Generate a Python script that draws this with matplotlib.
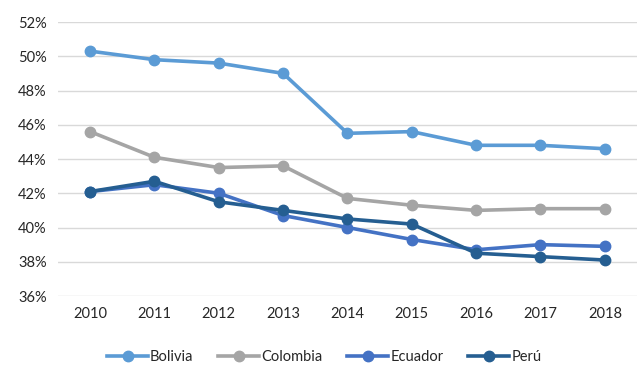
import matplotlib
matplotlib.use("Agg")
import matplotlib.pyplot as plt
from matplotlib.ticker import FuncFormatter

plt.rcParams['font.family'] = ['Lato', 'DejaVu Sans']

years = [2010, 2011, 2012, 2013, 2014, 2015, 2016, 2017, 2018]
bolivia = [50.3, 49.8, 49.6, 49.0, 45.5, 45.6, 44.8, 44.8, 44.6]
colombia = [45.6, 44.1, 43.5, 43.6, 41.7, 41.3, 41.0, 41.1, 41.1]
ecuador = [42.1, 42.5, 42.0, 40.7, 40.0, 39.3, 38.7, 39.0, 38.9]
peru = [42.1, 42.7, 41.5, 41.0, 40.5, 40.2, 38.5, 38.3, 38.1]

series = [
    ("Bolivia", bolivia, "#5B9BD5"),
    ("Colombia", colombia, "#A5A5A5"),
    ("Ecuador", ecuador, "#4472C4"),
    ("Perú", peru, "#255E91"),
]

fig = plt.figure(figsize=(6.37, 3.65), dpi=100)
ax = fig.add_axes([0.091, 0.189, 0.909, 0.7507])

x = list(range(len(years)))
for name, vals, col in series:
    ax.plot(x, vals, color=col, lw=2.6, marker='o', ms=7.5, label=name,
            solid_joinstyle='round')

ax.set_xlim(-0.5, len(years) - 0.5)
ax.set_ylim(36, 52)
ax.set_yticks(range(36, 53, 2))
ax.yaxis.set_major_formatter(FuncFormatter(lambda v, p: f"{v:.0f}%"))
ax.set_xticks(x)
ax.set_xticklabels([str(y) for y in years])

ax.grid(axis='y', color='#D9D9D9', lw=1)
ax.set_axisbelow(True)
for s in ax.spines.values():
    s.set_visible(False)
ax.tick_params(length=0, labelsize=10.5, colors='#262626', pad=8)

ax.legend(loc='upper center', bbox_to_anchor=(0.46, -0.15), ncol=4,
          frameon=False, fontsize=10.5, handlelength=2.8, columnspacing=1.7,
          handletextpad=0.15, labelcolor='#262626')

fig.savefig("out.png", dpi=100)
